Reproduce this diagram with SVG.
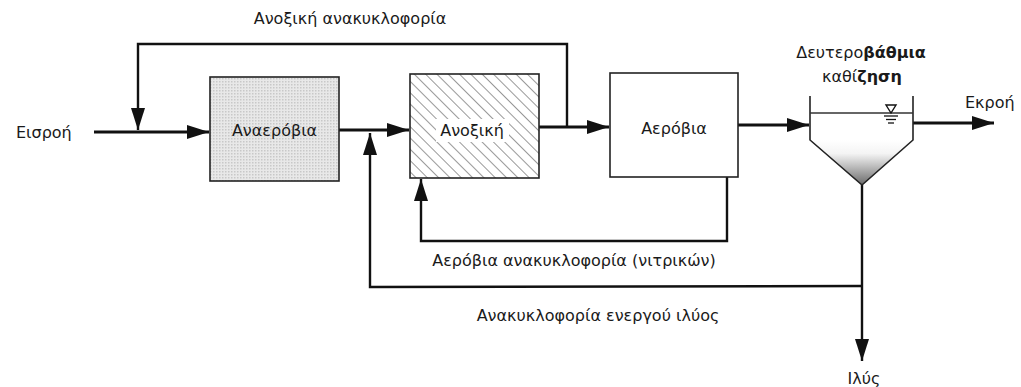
<svg xmlns="http://www.w3.org/2000/svg" width="1021" height="387" viewBox="0 0 1021 387">
<style>
text{font-family:"DejaVu Sans","Liberation Sans",Arial,sans-serif;font-size:16px;fill:#1a1a1a}
.box{stroke:#222;stroke-width:1.6}
.flow{fill:none;stroke:#111;stroke-width:3}
.rec{fill:none;stroke:#111;stroke-width:2.4}
.thin{fill:none;stroke:#222;stroke-width:1.6}
</style>
<defs>
<marker id="ah" viewBox="0 0 22 14" refX="22" refY="7" markerWidth="22" markerHeight="14" markerUnits="userSpaceOnUse" orient="auto">
<path d="M0,0 L22,7 L0,14 Z" fill="#111"/>
</marker>
<pattern id="hatch" width="8" height="8" patternUnits="userSpaceOnUse" patternTransform="rotate(-45)">
<line x1="0" y1="0" x2="0" y2="8" stroke="#444" stroke-width="1.1"/>
</pattern>
<pattern id="dots" width="3" height="3" patternUnits="userSpaceOnUse">
<rect width="3" height="3" fill="#e8e8e8"/>
<rect width="1.5" height="1.5" fill="#c8c8c8"/>
</pattern>
<linearGradient id="sludge" x1="0" y1="0" x2="0" y2="1">
<stop offset="0" stop-color="#ffffff"/>
<stop offset="0.3" stop-color="#f4f4f4"/>
<stop offset="0.45" stop-color="#d8d8d8"/>
<stop offset="1" stop-color="#6a6a6a"/>
</linearGradient>
</defs>

<g id="connectors">
<line class="flow" x1="94" y1="132" x2="209" y2="132" marker-end="url(#ah)"/>
<line class="flow" x1="339" y1="130" x2="409" y2="130" marker-end="url(#ah)"/>
<line class="flow" x1="539" y1="127" x2="609" y2="127" marker-end="url(#ah)"/>
<line class="flow" x1="738" y1="125" x2="809" y2="125" marker-end="url(#ah)"/>
<line class="flow" x1="913" y1="123" x2="994" y2="123" marker-end="url(#ah)"/>
<polyline class="rec" points="567,127 567,44 138,44 138,130" marker-end="url(#ah)"/>
<polyline class="rec" points="727,177 727,241 421,241 421,179" marker-end="url(#ah)"/>
<polyline class="rec" points="862,286 370,287 370,133" marker-end="url(#ah)"/>
<line class="rec" x1="862" y1="185" x2="862" y2="361" marker-end="url(#ah)"/>
</g>

<g id="influent-label"><text x="16" y="138">Εισροή</text></g>

<g id="anaerobic">
<rect class="box" x="210" y="77" width="129" height="104" fill="url(#dots)"/>
<text x="274.5" y="136" text-anchor="middle">Αναερόβια</text>
</g>

<g id="anoxic">
<rect x="410" y="74" width="129" height="104" fill="#fff"/>
<rect class="box" x="410" y="74" width="129" height="104" fill="url(#hatch)"/>
<rect x="436" y="119" width="73" height="23" fill="#fff"/>
<text x="472" y="136" text-anchor="middle">Ανοξική</text>
</g>

<g id="aerobic">
<rect class="box" x="610" y="73" width="128" height="104" fill="#fff"/>
<text x="674" y="134" text-anchor="middle">Αερόβια</text>
</g>

<g id="clarifier">
<path d="M810,140 L862,185 L913,140 Z" fill="url(#sludge)" stroke="none"/>
<path class="thin" d="M810,96 L810,140 L862,185 L913,140 L913,96"/>
<line x1="810" y1="113" x2="913" y2="113" stroke="#333" stroke-width="1.4"/>
<path d="M886,105 L896,105 L891,113 Z" fill="none" stroke="#111" stroke-width="1.4"/>
<line x1="884" y1="116" x2="898" y2="116" stroke="#111" stroke-width="1.3"/>
<line x1="886" y1="119.5" x2="896" y2="119.5" stroke="#111" stroke-width="1.3"/>
<line x1="888" y1="123" x2="894" y2="123" stroke="#111" stroke-width="1.3"/>
<text x="861" y="58" text-anchor="middle">Δευτερο<tspan font-weight="bold">βάθμια</tspan></text>
<text x="862" y="82" text-anchor="middle">καθί<tspan font-weight="bold">ζηση</tspan></text>
</g>

<g id="effluent-label"><text x="965" y="108">Εκροή</text></g>

<g id="labels">
<text x="350" y="24" text-anchor="middle">Ανοξική ανακυκλοφορία</text>
<text x="574" y="266" text-anchor="middle">Αερόβια ανακυκλοφορία (νιτρικών)</text>
<text x="598" y="321" text-anchor="middle">Ανακυκλοφορία ενεργού ιλύος</text>
<text x="864" y="384" text-anchor="middle">Ιλύς</text>
</g>
</svg>
